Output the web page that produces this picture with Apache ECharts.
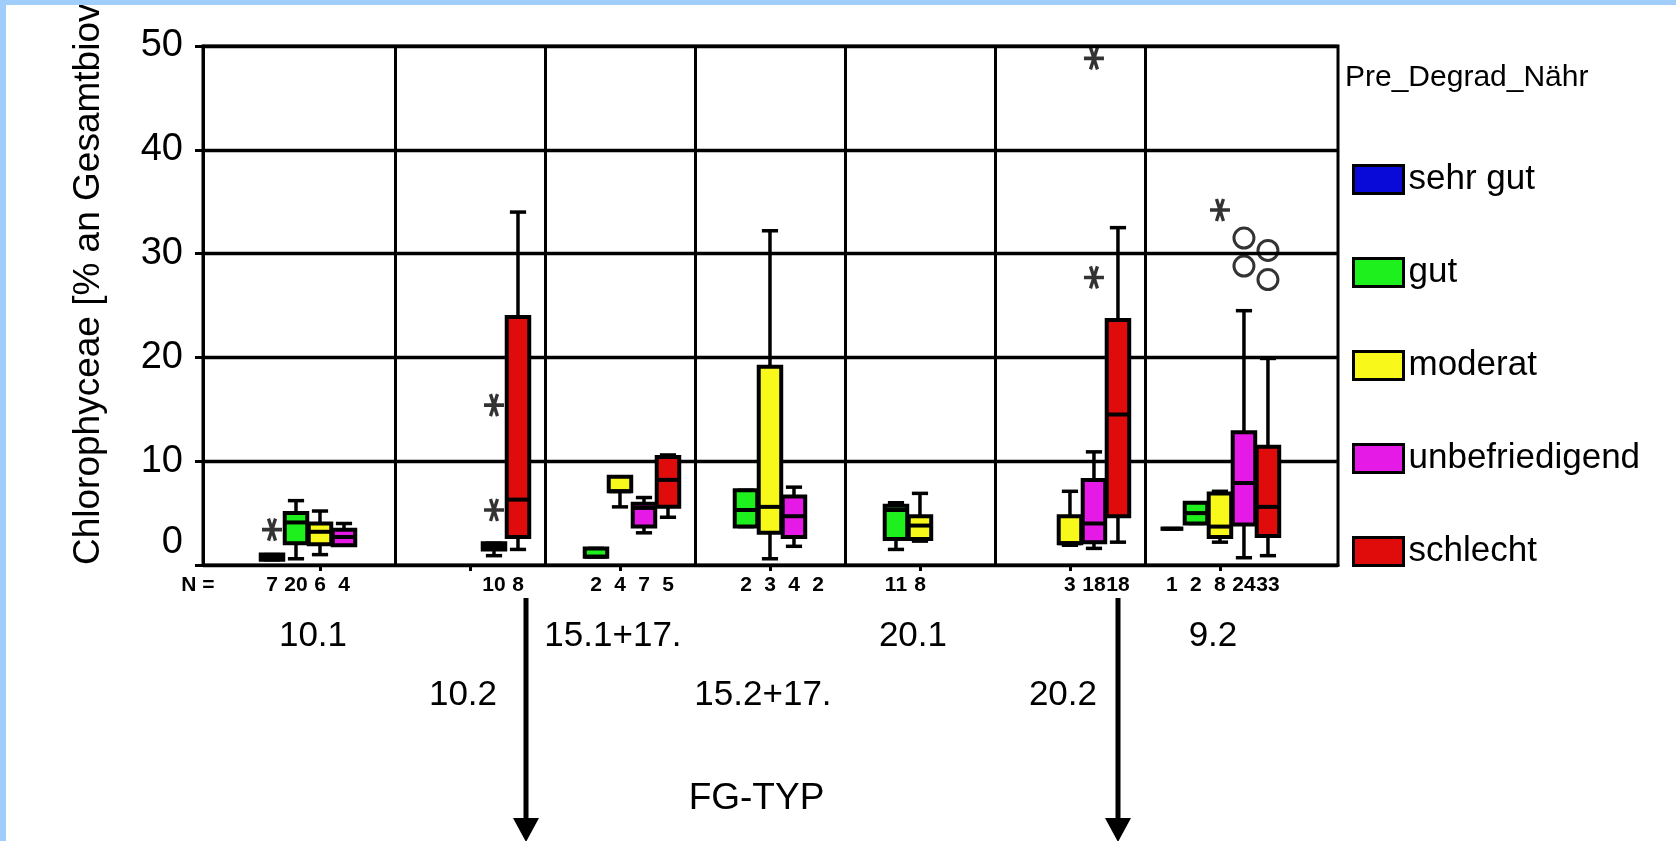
<!DOCTYPE html>
<html><head><meta charset="utf-8">
<script src="https://cdn.jsdelivr.net/npm/echarts@6/dist/echarts.min.js"></script>
<style>html,body{margin:0;padding:0;background:#fff}#c{width:1676px;height:841px}</style>
</head><body><div id="c"></div>
<script>
const categories = ['10.1', '10.2', '15.1+17.', '15.2+17.', '20.1', '20.2', '9.2'];
const groups = ['sehr gut', 'gut', 'moderat', 'unbefriedigend', 'schlecht'];
const groupColors = ['#0a0ad8', '#1ef01e', '#f8f81a', '#e61ae6', '#e00c0c'];
const yTicks = [0, 10, 20, 30, 40, 50];

// box statistics per category: [min, q1, median, q3, max]; null = no box
const sehrGut = [[0.5, 0.5, 0.8, 1.0, 1.0], null, null, null, null, null, [3.5, 3.5, 3.5, 3.5, 3.5]];
const gut = [[0.6, 2.1, 4.1, 5.0, 6.2], null, [0.8, 0.8, 0.8, 1.6, 1.6], [3.7, 3.7, 5.3, 7.2, 7.2], [1.5, 2.5, 5.3, 5.7, 6.0], null, [4.0, 4.0, 5.0, 6.0, 6.0]];
const moderat = [[1.0, 2.0, 3.2, 4.0, 5.2], null, [5.6, 7.1, 7.1, 8.5, 8.5], [0.6, 3.1, 5.6, 19.1, 32.2], [2.3, 2.5, 3.8, 4.7, 6.9], [1.9, 2.1, 2.1, 4.7, 7.1], [2.2, 2.7, 3.7, 6.9, 7.1]];
const unbefriedigend = [[1.9, 1.9, 2.7, 3.4, 4.0], [0.9, 1.5, 1.8, 2.1, 2.1], [3.1, 3.7, 5.5, 5.9, 6.5], [1.8, 2.7, 4.7, 6.6, 7.5], null, [1.6, 2.2, 4.0, 8.2, 10.9], [0.7, 3.9, 7.9, 12.8, 24.5]];
const schlecht = [null, [1.5, 2.7, 6.3, 23.9, 34.0], [4.6, 5.6, 8.2, 10.4, 10.6], null, null, [2.2, 4.7, 14.5, 23.6, 32.5], [0.9, 2.8, 5.6, 11.4, 19.9]];

// N per category
const nSehrGut = [7, null, null, null, null, null, 1];
const nGut = [20, null, 2, 2, 11, null, 2];
const nModerat = [6, null, 4, 3, 8, 3, 8];
const nUnbefriedigend = [4, 10, 7, 4, null, 18, 24];
const nSchlecht = [null, 8, 5, 2, null, 18, 33];

// extremes (*) and outliers (o): [categoryIndex, groupIndex, value]
const extremes = [[0, 0, 3.4], [1, 3, 15.4], [1, 3, 5.3], [5, 3, 48.8], [5, 3, 27.7], [6, 2, 34.2]];
const outliers = [[6, 3, 31.5], [6, 3, 28.8], [6, 4, 30.3], [6, 4, 27.5]];

const FONT = '"Liberation Sans", Arial, sans-serif';
const SLOT = 0.16, BOX_W = 0.15;
const xOf = (c, g) => c + (g - 2) * SLOT;

function renderBox(params, api) {
  const x = api.value(0);
  const pMin = api.coord([x, api.value(1)]);
  const pQ1 = api.coord([x, api.value(2)]);
  const pMed = api.coord([x, api.value(3)]);
  const pQ3 = api.coord([x, api.value(4)]);
  const pMax = api.coord([x, api.value(5)]);
  const half = api.size([BOX_W, 0])[0] / 2;
  const cap = half * 0.72;
  const cx = pQ1[0];
  const ls = { stroke: '#000', lineWidth: 3.5 };
  return {
    type: 'group', children: [
      { type: 'line', shape: { x1: cx, y1: pQ3[1], x2: cx, y2: pMax[1] }, style: ls },
      { type: 'line', shape: { x1: cx - cap, y1: pMax[1], x2: cx + cap, y2: pMax[1] }, style: ls },
      { type: 'line', shape: { x1: cx, y1: pQ1[1], x2: cx, y2: pMin[1] }, style: ls },
      { type: 'line', shape: { x1: cx - cap, y1: pMin[1], x2: cx + cap, y2: pMin[1] }, style: ls },
      { type: 'rect', shape: { x: cx - half, y: pQ3[1], width: half * 2, height: pQ1[1] - pQ3[1] }, style: { fill: api.visual('color'), stroke: '#000', lineWidth: 4 } },
      { type: 'line', shape: { x1: cx - half, y1: pMed[1], x2: cx + half, y2: pMed[1] }, style: { stroke: '#000', lineWidth: 4 } }
    ]
  };
}

const boxSeries = [sehrGut, gut, moderat, unbefriedigend, schlecht].map((arr, g) => ({
  name: groups[g], type: 'custom', renderItem: renderBox, clip: false, z: 3,
  itemStyle: { color: groupColors[g] },
  encode: { x: 0, y: [1, 2, 3, 4, 5] },
  data: arr.map((s, c) => s ? [xOf(c, g)].concat(s) : null).filter(Boolean)
}));

const counts = [nSehrGut, nGut, nModerat, nUnbefriedigend, nSchlecht];
const nData = [];
counts.forEach((arr, g) => arr.forEach((n, c) => { if (n != null) nData.push([xOf(c, g), 0, n]); }));

const dividers = categories.slice(1).map((_, i) => i + 0.5);
const idx = categories.map((_, i) => i);
const ASTERISK = 'path://M-10,0L10,0M-3.5,-10L3.5,10M3.5,-10L-3.5,10';

const option = {
  animation: false,
  backgroundColor: '#fff',
  textStyle: { fontFamily: FONT },
  title: { text: 'Pre_Degrad_Nähr', left: 1345, top: 63, padding: 0, textStyle: { fontSize: 30, fontWeight: 'normal', color: '#000', fontFamily: FONT } },
  legend: {
    orient: 'vertical', left: 1352, top: 155, padding: 0, itemWidth: 50, itemHeight: 28, itemGap: 44,
    icon: 'rect', selectedMode: false,
    textStyle: { fontSize: 35, lineHeight: 35, color: '#000', fontFamily: FONT, padding: [0, 0, 14, 0] },
    data: groups.map((g, i) => ({ name: g, itemStyle: { color: groupColors[i], borderColor: '#000', borderWidth: 3 } }))
  },
  grid: { left: 203, top: 46, right: 338, bottom: 276, show: true, borderColor: '#000', borderWidth: 3, containLabel: false },
  xAxis: {
    type: 'value', min: -0.78, max: 6.787, splitLine: { show: false },
    axisLine: { show: true, onZero: false, lineStyle: { color: '#000', width: 3 } },
    axisTick: { show: true, customValues: idx, length: 6, lineStyle: { color: '#000', width: 3 } },
    axisLabel: {
      customValues: idx, margin: 54,
      formatter: v => { const i = Math.round(v); return (i % 2 === 0 ? '{a|' : '{b|') + categories[i] + '}'; },
      rich: {
        a: { fontSize: 35, lineHeight: 35, padding: [0, 14, 0, 0], fontFamily: FONT, color: '#000' },
        b: { fontSize: 35, lineHeight: 35, padding: [118, 14, 0, 0], fontFamily: FONT, color: '#000' }
      }
    },
    name: 'FG-TYP', nameLocation: 'middle', nameGap: 215,
    nameTextStyle: { fontSize: 37, color: '#000', fontFamily: FONT, padding: [0, 28, 0, 0] }
  },
  yAxis: {
    type: 'value', min: yTicks[0], max: yTicks[yTicks.length - 1], interval: yTicks[1] - yTicks[0],
    axisLine: { show: true, onZero: false, lineStyle: { color: '#000', width: 3 } },
    axisTick: { show: true, length: 8, lineStyle: { color: '#000', width: 3 } },
    splitLine: { show: true, lineStyle: { color: '#000', width: 3.3 } },
    axisLabel: {
      fontSize: 38, color: '#000', fontFamily: FONT, margin: 20,
      formatter: v => v === 0 ? '{z|0}' : String(v),
      rich: { z: { fontSize: 38, fontFamily: FONT, color: '#000', padding: [0, 0, 44, 0] } }
    }
  },
  series: boxSeries.concat([
    {
      type: 'custom', name: 'N', clip: false, silent: true, z: 3,
      encode: { x: 0, y: 1 }, data: nData,
      renderItem: (p, api) => {
        const pt = api.coord([api.value(0), 0]);
        return { type: 'text', x: pt[0], y: pt[1] + 20, style: { text: String(api.value(2)), fontSize: 21, fontWeight: 'bold', fontFamily: FONT, align: 'center', verticalAlign: 'middle', fill: '#000' } };
      }
    },
    {
      type: 'scatter', name: 'Extremwerte', symbol: ASTERISK, symbolSize: [20, 22], z: 4, silent: true,
      itemStyle: { color: 'transparent', borderColor: '#000', borderWidth: 3.5 },
      data: extremes.map(([c, g, v]) => [xOf(c, g), v]),
      markLine: {
        silent: true, symbol: ['none', 'none'], label: { show: false }, z: 1,
        lineStyle: { color: '#000', width: 3, type: 'solid' },
        data: dividers.map(v => ({ xAxis: v }))
      }
    },
    {
      type: 'scatter', name: 'Ausreißer', symbol: 'circle', symbolSize: 20, z: 4, silent: true,
      itemStyle: { color: 'transparent', borderColor: '#000', borderWidth: 3 },
      data: outliers.map(([c, g, v]) => [xOf(c, g), v])
    }
  ]),
  graphic: [
    { type: 'text', x: 89, y: 565, rotation: Math.PI / 2, z: 10,
      style: { text: 'Chlorophyceae [% an Gesamtbiovolumen]', fontSize: 37, fontFamily: FONT, align: 'left', verticalAlign: 'middle', fill: '#000' } },
    { type: 'text', x: 198, y: 585, z: 10,
      style: { text: 'N =', fontSize: 21, fontWeight: 'bold', fontFamily: FONT, align: 'center', verticalAlign: 'middle', fill: '#000' } },
    { type: 'line', shape: { x1: 526, y1: 598, x2: 526, y2: 824 }, style: { stroke: '#000', lineWidth: 5 }, z: 10 },
    { type: 'polygon', shape: { points: [[513, 818], [539, 818], [526, 842]] }, style: { fill: '#000' }, z: 10 },
    { type: 'line', shape: { x1: 1118, y1: 598, x2: 1118, y2: 824 }, style: { stroke: '#000', lineWidth: 5 }, z: 10 },
    { type: 'polygon', shape: { points: [[1105, 818], [1131, 818], [1118, 842]] }, style: { fill: '#000' }, z: 10 },
    { type: 'rect', shape: { x: 0, y: 0, width: 1676, height: 5 }, style: { fill: '#a0cdfa' }, z: 100 },
    { type: 'rect', shape: { x: 0, y: 0, width: 6, height: 841 }, style: { fill: '#a0cdfa' }, z: 100 }
  ]
};
const chart = echarts.init(document.getElementById('c'));
chart.setOption(option);
</script></body></html>
